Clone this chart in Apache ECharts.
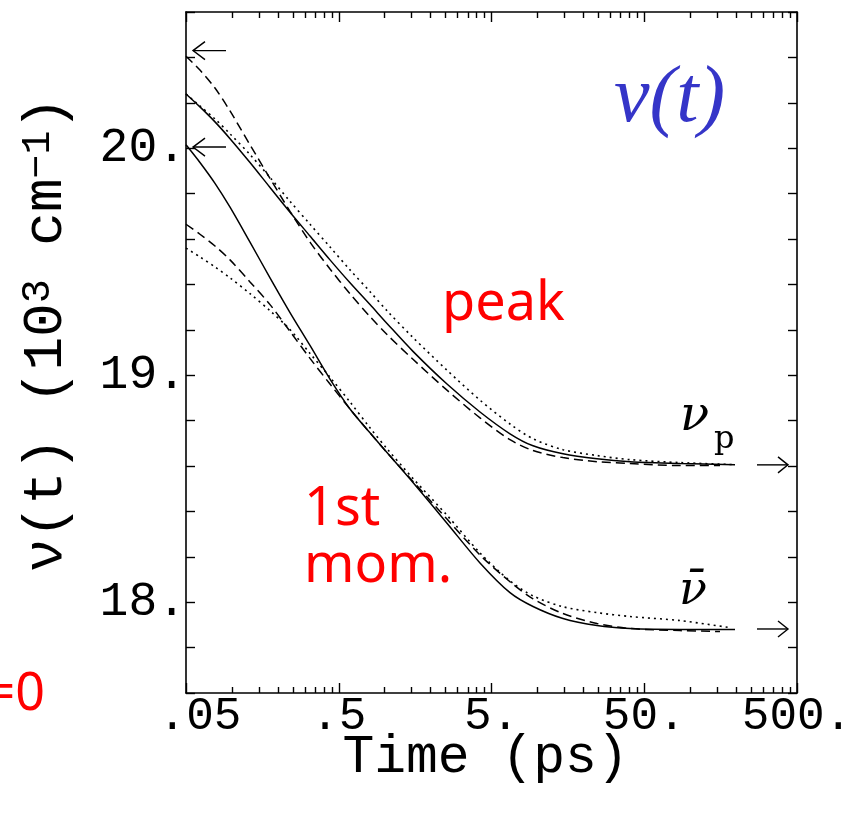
<!DOCTYPE html>
<html><head><meta charset="utf-8">
<script src="https://cdn.jsdelivr.net/npm/echarts@6/dist/echarts.min.js"></script>
<style>html,body{margin:0;padding:0;background:#fff}#c{width:846px;height:814px}</style>
</head><body><div id="c"></div>
<script>
// ---------------- data ----------------
const xMajorTicks = [0.05, 0.5, 5, 50, 500];
const xTickLabels = ['.05', '.5', '5.', '50.', '500.'];
const xMinorTicks = [0.1, 0.15, 0.2, 0.25, 0.3, 0.35, 0.4, 0.45,
                     1, 1.5, 2, 2.5, 3, 3.5, 4, 4.5,
                     10, 15, 20, 25, 30, 35, 40, 45,
                     100, 150, 200, 250, 300, 350, 400, 450];
const yLabelValues = [18, 19, 20];
const yTickLabels = ['18.', '19.', '20.'];

// peak frequency (upper group)
const peakSolidT = [0.05, 0.0617, 0.0774, 0.0971, 0.1312, 0.1774, 0.2398, 0.3241, 0.4382, 0.5924, 0.801, 1.035, 1.531, 2.556, 4.204, 6.607, 9.35, 14.69, 24.53, 40.33, 85.7, 196.4];
const peakSolidV = [20.239, 20.182, 20.116, 20.042, 19.937, 19.827, 19.718, 19.613, 19.508, 19.407, 19.311, 19.228, 19.105, 18.961, 18.838, 18.742, 18.689, 18.654, 18.632, 18.619, 18.611, 18.606];
const peakDashT = [0.05, 0.0617, 0.0774, 0.0971, 0.1312, 0.1774, 0.2398, 0.3241, 0.4382, 0.5924, 0.801, 1.035, 1.531, 2.556, 4.204, 6.607, 9.35, 14.69, 24.53, 40.33, 85.7, 156.6];
const peakDashV = [20.405, 20.344, 20.265, 20.164, 20.015, 19.867, 19.722, 19.586, 19.468, 19.359, 19.258, 19.179, 19.070, 18.934, 18.812, 18.716, 18.668, 18.637, 18.619, 18.611, 18.602, 18.602];
const peakDotT = [0.05, 0.0617, 0.0774, 0.0971, 0.1312, 0.1774, 0.2398, 0.3241, 0.4382, 0.5924, 0.801, 1.035, 1.531, 2.556, 4.204, 6.607, 9.35, 14.69, 24.53, 40.33, 85.7, 196.4];
const peakDotV = [20.239, 20.186, 20.129, 20.063, 19.972, 19.871, 19.766, 19.665, 19.565, 19.464, 19.368, 19.284, 19.166, 19.022, 18.890, 18.785, 18.720, 18.672, 18.646, 18.628, 18.615, 18.606];

// first moment (lower group)
const momSolidT = [0.05, 0.0617, 0.0774, 0.0971, 0.1312, 0.1774, 0.2398, 0.3241, 0.4382, 0.5924, 0.801, 1.035, 1.531, 2.556, 4.204, 6.607, 9.35, 14.69, 24.53, 40.33, 85.7, 196.4];
const momSolidV = [20.015, 19.937, 19.845, 19.740, 19.586, 19.429, 19.276, 19.131, 18.983, 18.851, 18.746, 18.659, 18.527, 18.348, 18.173, 18.042, 17.981, 17.928, 17.897, 17.884, 17.880, 17.880];
const momDashT = [0.05, 0.0617, 0.0774, 0.0971, 0.1312, 0.1774, 0.2398, 0.3241, 0.4382, 0.5924, 0.801, 1.035, 1.531, 2.556, 4.204, 6.607, 9.35, 14.69, 24.53, 40.33, 85.7, 156.6];
const momDashV = [19.665, 19.621, 19.569, 19.508, 19.411, 19.311, 19.193, 19.074, 18.961, 18.851, 18.746, 18.659, 18.532, 18.366, 18.208, 18.090, 18.015, 17.950, 17.906, 17.884, 17.875, 17.871];
const momDotT = [0.05, 0.0617, 0.0774, 0.0971, 0.1312, 0.1774, 0.2398, 0.3241, 0.4382, 0.5924, 0.801, 1.035, 1.531, 2.556, 4.204, 6.607, 9.35, 14.69, 24.53, 40.33, 85.7, 182];
const momDotV = [19.560, 19.521, 19.477, 19.429, 19.359, 19.284, 19.201, 19.096, 18.991, 18.882, 18.768, 18.676, 18.545, 18.383, 18.217, 18.094, 18.028, 17.980, 17.954, 17.937, 17.919, 17.888];

// arrows: t = 0 values (left) and t -> infinity values (right)
const startArrowValues = [20.43, 20.005];
const endArrowValues = [18.605, 17.882];

// ---------------- chart ----------------
const chart = echarts.init(document.getElementById('c'), null, {renderer: 'canvas'});
const INK = '#000';
const MONO = '"Liberation Mono", "DejaVu Sans Mono", monospace';
const SERIF = '"Liberation Serif", "DejaVu Serif", serif';
const DSERIF = '"DejaVu Serif", "Liberation Serif", serif';
const SANS = '"Noto Sans", "Open Sans", sans-serif';
const zip = (t, v) => t.map((x, i) => [x, v[i]]);
const xLabelFor = (val) => {
  for (let i = 0; i < xMajorTicks.length; i++) {
    if (Math.abs(val - xMajorTicks[i]) / xMajorTicks[i] < 1e-6) {
      return i === 0 ? '{first|' + xTickLabels[i] + '}' : xTickLabels[i];
    }
  }
  return '';
};
const yLabelFor = (val) => {
  for (let i = 0; i < yLabelValues.length; i++) {
    if (Math.abs(val - yLabelValues[i]) < 1e-6) return yTickLabels[i];
  }
  return '';
};
const xBase = {type: 'log', logBase: 10, min: 0.05, max: 500, gridIndex: 0,
  splitLine: {show: false}, minorTick: {show: false}, minorSplitLine: {show: false}};
const axLine = {show: true, lineStyle: {color: INK, width: 1.6}};
const tickStyle = {color: INK, width: 1.4};

function lineSeries(name, data, type) {
  return {
    name, type: 'line', data, xAxisIndex: 0, yAxisIndex: 0,
    symbol: 'none', smooth: 0.3, silent: true,
    lineStyle: {color: INK, width: type === 'dotted' ? 1.6 : 1.5,
      type: type === 'solid' ? 'solid' : (type === 'dashed' ? [9, 5] : [2, 4])}
  };
}

const option = {
  backgroundColor: '#fff',
  animation: false,
  grid: {left: 186, right: 49, top: 12, bottom: 121, containLabel: false, outerBoundsMode: 'none'},
  title: {
    text: 'ν(t)', left: 614, top: 60, padding: 0,
    textStyle: {color: '#3535c8', fontFamily: SERIF, fontStyle: 'italic', fontWeight: 'normal', fontSize: 80}
  },
  xAxis: [
    Object.assign({}, xBase, {
      position: 'bottom', name: 'Time (ps)', nameLocation: 'middle', nameGap: 38, nameMoveOverlap: false,
      nameTextStyle: {fontFamily: MONO, fontSize: 53, color: INK, padding: [0, 12, 0, 0]},
      axisLine: axLine,
      axisTick: {show: true, inside: true, length: 10, customValues: xMajorTicks, lineStyle: tickStyle},
      axisLabel: {show: true, customValues: xMajorTicks, formatter: xLabelFor, margin: 1,
        fontFamily: MONO, fontSize: 46, color: INK,
        rich: {first: {fontFamily: MONO, fontSize: 46, color: INK, padding: [0, 0, 0, 28]}}}
    }),
    Object.assign({}, xBase, {
      position: 'bottom', axisLine: {show: false},
      axisTick: {show: true, inside: true, length: 6, customValues: xMinorTicks, lineStyle: tickStyle},
      axisLabel: {show: false}
    }),
    Object.assign({}, xBase, {
      position: 'top', axisLine: axLine,
      axisTick: {show: true, inside: true, length: 10, customValues: xMajorTicks, lineStyle: tickStyle},
      axisLabel: {show: false}
    }),
    Object.assign({}, xBase, {
      position: 'top', axisLine: {show: false},
      axisTick: {show: true, inside: true, length: 6, customValues: xMinorTicks, lineStyle: tickStyle},
      axisLabel: {show: false}
    })
  ],
  yAxis: [
    {
      type: 'value', min: 17.6, max: 20.6, interval: 0.2, position: 'left', gridIndex: 0,
      name: '{n|ν(t) (10}{s|3}{n| cm}{s|−1}{n|)}',
      nameLocation: 'middle', nameRotate: 90, nameGap: 112,
      nameTextStyle: {
        padding: [0, 0, 0, 36],
        rich: {
          n: {fontFamily: MONO, fontSize: 56, color: INK},
          s: {fontFamily: MONO, fontSize: 40, color: INK, verticalAlign: 'top'}
        }
      },
      axisLine: axLine,
      axisTick: {show: true, inside: true, length: 9, lineStyle: tickStyle},
      axisLabel: {show: true, customValues: yLabelValues, formatter: yLabelFor, margin: 0,
        fontFamily: MONO, fontSize: 48, color: INK},
      splitLine: {show: false}
    },
    {
      type: 'value', min: 17.6, max: 20.6, interval: 0.2, position: 'right', gridIndex: 0,
      axisLine: axLine,
      axisTick: {show: true, inside: true, length: 9, lineStyle: tickStyle},
      axisLabel: {show: false},
      splitLine: {show: false}
    }
  ],
  series: [
    lineSeries('peak solid', zip(peakSolidT, peakSolidV), 'solid'),
    lineSeries('peak dashed', zip(peakDashT, peakDashV), 'dashed'),
    lineSeries('peak dotted', zip(peakDotT, peakDotV), 'dotted'),
    lineSeries('1st mom. solid', zip(momSolidT, momSolidV), 'solid'),
    lineSeries('1st mom. dashed', zip(momDashT, momDashV), 'dashed'),
    lineSeries('1st mom. dotted', zip(momDotT, momDotV), 'dotted'),
    {
      type: 'custom', name: 't=0 arrows', coordinateSystem: 'cartesian2d', xAxisIndex: 0, yAxisIndex: 0,
      silent: true, clip: false,
      data: startArrowValues.map(v => [xMajorTicks[0], v]),
      renderItem: (params, api) => {
        const p = api.coord([api.value(0), api.value(1)]);
        const tip = p[0] + 7, y = p[1];
        const st = {stroke: INK, fill: null, lineWidth: 1.4};
        return {type: 'group', children: [
          {type: 'line', shape: {x1: tip, y1: y, x2: tip + 33, y2: y}, style: st},
          {type: 'polyline', shape: {points: [[tip + 12, y - 9], [tip, y], [tip + 12, y + 9]]}, style: st}
        ]};
      }
    },
    {
      type: 'custom', name: 't=inf arrows', coordinateSystem: 'cartesian2d', xAxisIndex: 0, yAxisIndex: 0,
      silent: true, clip: false,
      data: endArrowValues.map(v => [xMajorTicks[xMajorTicks.length - 1], v]),
      renderItem: (params, api) => {
        const p = api.coord([api.value(0), api.value(1)]);
        const tip = p[0] - 9, y = p[1];
        const st = {stroke: INK, fill: null, lineWidth: 1.4};
        return {type: 'group', children: [
          {type: 'line', shape: {x1: tip - 31, y1: y, x2: tip, y2: y}, style: st},
          {type: 'polyline', shape: {points: [[tip - 10, y - 8], [tip, y], [tip - 10, y + 8]]}, style: st}
        ]};
      }
    }
  ],
  graphic: [
    {type: 'text', style: {text: 'peak', x: 442, y: 305, fill: '#ff0000', font: '54px ' + SANS, align: 'left', verticalAlign: 'middle'}},
    {type: 'text', style: {text: '1st', x: 304, y: 510, fill: '#ff0000', font: '54px ' + SANS, align: 'left', verticalAlign: 'middle'}},
    {type: 'text', style: {text: 'mom.', x: 304, y: 567, fill: '#ff0000', font: '54px ' + SANS, align: 'left', verticalAlign: 'middle'}},
    {type: 'text', style: {text: '=0', x: 45, y: 695, fill: '#ff0000', font: '52px ' + SANS, align: 'right', verticalAlign: 'middle'}},
    {type: 'text', style: {text: 'ν', x: 680, y: 418, fill: INK, font: 'italic 48px ' + DSERIF, align: 'left', verticalAlign: 'middle'}},
    {type: 'text', style: {text: 'p', x: 714, y: 440, fill: INK, font: '32px ' + DSERIF, align: 'left', verticalAlign: 'middle'}},
    {type: 'text', style: {text: 'ν\u0304', x: 679, y: 592, fill: INK, font: 'italic 46px ' + DSERIF, align: 'left', verticalAlign: 'middle'}}
  ]
};
chart.setOption(option);
</script>
</body></html>
